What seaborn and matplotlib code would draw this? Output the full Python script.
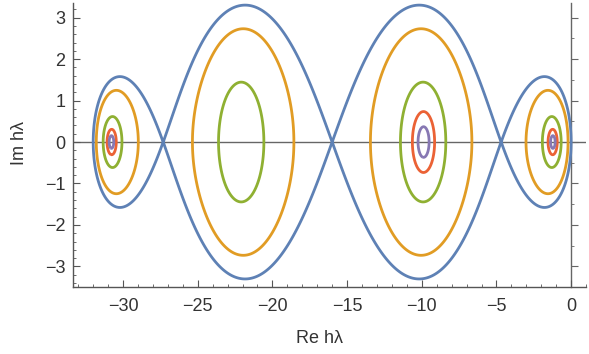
import numpy as np
import seaborn as sns
import matplotlib.pyplot as plt
from matplotlib.ticker import MultipleLocator

# zeros of the stability polynomial R(hλ), R(0) = 1 (centres of the rings)
roots = [-30.7821, -22.1229, -9.8771, -1.2179]

# contour levels |R(hλ)| = c, outermost first
levels = [1.0, 0.8, 0.4, 0.2, 0.1]
level_colors = ["#5E81B5", "#E19C24", "#8FB032", "#EB6235", "#8778B3"]

# which zeros each level is drawn around (index into roots)
level_roots = [
    [0, 1, 2, 3],
    [0, 1, 2, 3],
    [0, 1, 2, 3],
    [0, 2, 3],
    [0, 2, 3],
]

x_range = (-33.35, 1.0)
y_range = (-3.5, 3.35)

sns.set_theme(style="white")
plt.rcParams["font.family"] = ["Liberation Sans", "DejaVu Sans"]

xs = np.linspace(x_range[0], x_range[1], 1401)
ys = np.linspace(y_range[0], y_range[1], 601)
X, Y = np.meshgrid(xs, ys)
Z = X + 1j * Y

R = np.ones_like(Z)
for r in roots:
    R = R * (1 - Z / r)
F = np.abs(R)

# saddle points split the plane into one cell per zero
saddles = np.sort(np.roots(np.polyder(np.poly(roots))).real)
edges = np.concatenate([[-np.inf], saddles, [np.inf]])

fig = plt.figure(figsize=(5.89, 3.54), dpi=100)
ax = fig.add_axes([0.124, 0.189, 0.871, 0.802])

for c, col, idx in zip(levels, level_colors, level_roots):
    if len(idx) == len(roots):
        field = F
    else:
        keep = np.zeros_like(F, dtype=bool)
        for i in idx:
            keep |= (X > edges[i]) & (X < edges[i + 1])
        field = np.ma.masked_where(~keep, F)
    ax.contour(X, Y, field, levels=[c], colors=[col], linewidths=2.0)

ax.axhline(0, color="#666666", lw=1.0, zorder=0)

ax.set_xlim(*x_range)
ax.set_ylim(*y_range)

frame_col = "#555555"
for side in ["top", "right"]:
    ax.spines[side].set_visible(False)
for side in ["left", "bottom"]:
    ax.spines[side].set_color(frame_col)
    ax.spines[side].set_linewidth(1.0)

ax.xaxis.set_major_locator(MultipleLocator(5))
ax.xaxis.set_minor_locator(MultipleLocator(1))
ax.yaxis.set_major_locator(MultipleLocator(1))
ax.yaxis.set_minor_locator(MultipleLocator(0.2))
ax.tick_params(which="both", direction="in", color=frame_col,
               labelsize=13, labelcolor="#333333", bottom=True, left=True)
ax.tick_params(which="major", length=5, width=0.8)
ax.tick_params(which="minor", length=2.5, width=0.6)
ax.tick_params(axis="x", which="both", pad=8)
ax.tick_params(axis="y", which="both", pad=5.5)
ax.set_xticklabels([f"{int(t)}".replace("-", "\u2212") for t in ax.get_xticks()])
ax.set_yticklabels([f"{int(t)}".replace("-", "\u2212") for t in ax.get_yticks()])

# vertical axis at Re hλ = 0
loc0 = (0 - x_range[0]) / (x_range[1] - x_range[0])
sec = ax.secondary_yaxis(loc0)
sec.spines["right"].set_color("#666666")
sec.spines["right"].set_linewidth(1.0)
sec.yaxis.set_major_locator(MultipleLocator(1))
sec.yaxis.set_minor_locator(MultipleLocator(0.5))
sec.tick_params(which="both", direction="out", color="#666666", labelright=False)
sec.tick_params(which="major", length=5, width=0.8)
sec.tick_params(which="minor", length=2.5, width=0.6)

ax.set_xlabel("Re h\u03bb", fontsize=13, color="#333333")
ax.set_ylabel("Im h\u03bb", fontsize=13, color="#333333")
ax.xaxis.set_label_coords(0.48, -0.15)
ax.yaxis.set_label_coords(-0.088, 0.507)

fig.savefig("out.png", dpi=100)
